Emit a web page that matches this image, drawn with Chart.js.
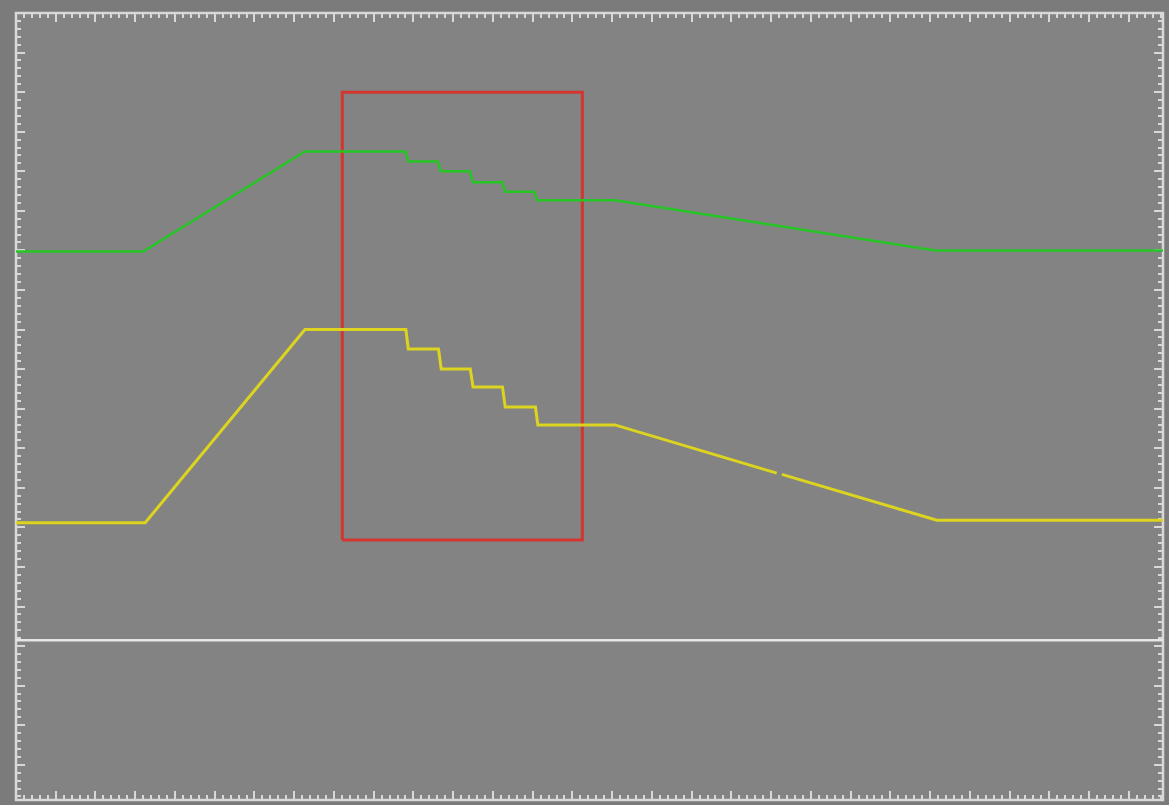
<!DOCTYPE html>
<html>
<head>
<meta charset="utf-8">
<script src="https://cdn.jsdelivr.net/npm/chart.js@4.4.0/dist/chart.umd.min.js"></script>
<style>
  html, body { margin: 0; padding: 0; background: #7b7b7b; overflow: hidden; }
  canvas { display: block; }
</style>
</head>
<body>
<canvas id="scope" width="1169" height="805"></canvas>
<script>
// trace data, x and y in screen divisions
const greenX = [0, 3.20, 7.27, 9.80, 9.87, 10.61, 10.69, 11.42, 11.50, 12.24, 12.31, 13.04, 13.11, 15.07, 23.13, 28.86];
const greenY = [13.97, 13.97, 16.5, 16.5, 16.25, 16.25, 16.0, 16.0, 15.72, 15.72, 15.48, 15.48, 15.27, 15.27, 14.0, 14.0];

const yellowX = [0, 3.25, 7.27, 9.81, 9.87, 10.63, 10.70, 11.43, 11.50, 12.24, 12.31, 13.07, 13.13, 15.07, 19.14, 19.20, 19.27, 23.17, 28.86];
const yellowY = [7.12, 7.12, 12.0, 12.0, 11.51, 11.51, 11.0, 11.0, 10.55, 10.55, 10.04, 10.04, 9.59, 9.59, 8.37, null, 8.34, 7.18, 7.18];

// reference level (white) and the zoom window (red box)
const refLevel = 4.15;
const boxX = [8.21, 14.25];
const boxY = [6.68, 18.0];

const X_MIN = 0, X_MAX = 28.86;
const Y_MIN = 0.11, Y_MAX = 20;

function zip(xs, ys) {
  return xs.map((x, i) => ({ x: x, y: ys[i] }));
}

const boxPts = [
  { x: boxX[0], y: boxY[0] },
  { x: boxX[0], y: boxY[1] },
  { x: boxX[1], y: boxY[1] },
  { x: boxX[1], y: boxY[0] },
  { x: boxX[0], y: boxY[0] }
];

// graticule: background, frame and tick marks along the edges
const graticule = {
  id: 'graticule',
  beforeDraw(chart) {
    const ctx = chart.ctx;
    const a = chart.chartArea;
    ctx.save();
    ctx.fillStyle = '#7b7b7b';
    ctx.fillRect(0, 0, chart.width, chart.height);
    ctx.fillStyle = '#838383';
    ctx.fillRect(a.left, a.top, a.right - a.left, a.bottom - a.top);
    ctx.restore();
  },
  beforeDatasetsDraw(chart) {
    const ctx = chart.ctx;
    const a = chart.chartArea;
    const xs = chart.scales.x, ys = chart.scales.y;
    ctx.save();
    ctx.strokeStyle = '#d8d8d8';
    ctx.lineWidth = 2;
    ctx.beginPath();
    for (let i = 0; i * 0.2 <= X_MAX + 1e-6; i++) {
      const px = Math.round(xs.getPixelForValue(i * 0.2));
      const len = i % 5 === 0 ? 9 : 5;
      ctx.moveTo(px, a.top); ctx.lineTo(px, a.top + len);
      ctx.moveTo(px, a.bottom); ctx.lineTo(px, a.bottom - len);
    }
    for (let i = 0; Y_MAX - i * 0.2 >= Y_MIN; i++) {
      const py = Math.round(ys.getPixelForValue(Y_MAX - i * 0.2));
      const len = i % 5 === 0 ? 9 : 5;
      ctx.moveTo(a.left, py); ctx.lineTo(a.left + len, py);
      ctx.moveTo(a.right, py); ctx.lineTo(a.right - len, py);
    }
    ctx.stroke();
    ctx.lineWidth = 2.5;
    ctx.strokeRect(a.left, a.top, a.right - a.left, a.bottom - a.top);
    ctx.restore();
  }
};

new Chart(document.getElementById('scope'), {
  type: 'line',
  plugins: [graticule],
  data: {
    datasets: [
      {
        label: 'ref',
        data: [{ x: X_MIN, y: refLevel }, { x: X_MAX, y: refLevel }],
        borderColor: '#e6e6e6',
        borderWidth: 2.5
      },
      {
        label: 'CH1',
        data: zip(greenX, greenY),
        borderColor: '#26c626',
        borderWidth: 2.5
      },
      {
        label: 'CH2',
        data: zip(yellowX, yellowY),
        borderColor: '#dcd41e',
        borderWidth: 3
      },
      {
        label: 'zoom',
        data: boxPts,
        borderColor: '#d2362f',
        borderWidth: 3,
        borderJoinStyle: 'miter'
      }
    ]
  },
  options: {
    responsive: false,
    animation: false,
    layout: { padding: { left: 16, top: 13, right: 6, bottom: 5 } },
    elements: {
      point: { radius: 0, hoverRadius: 0 },
      line: { tension: 0, fill: false }
    },
    scales: {
      x: { type: 'linear', min: X_MIN, max: X_MAX, display: false },
      y: { type: 'linear', min: Y_MIN, max: Y_MAX, display: false }
    },
    plugins: {
      legend: { display: false },
      tooltip: { enabled: false }
    }
  }
});
</script>
</body>
</html>
